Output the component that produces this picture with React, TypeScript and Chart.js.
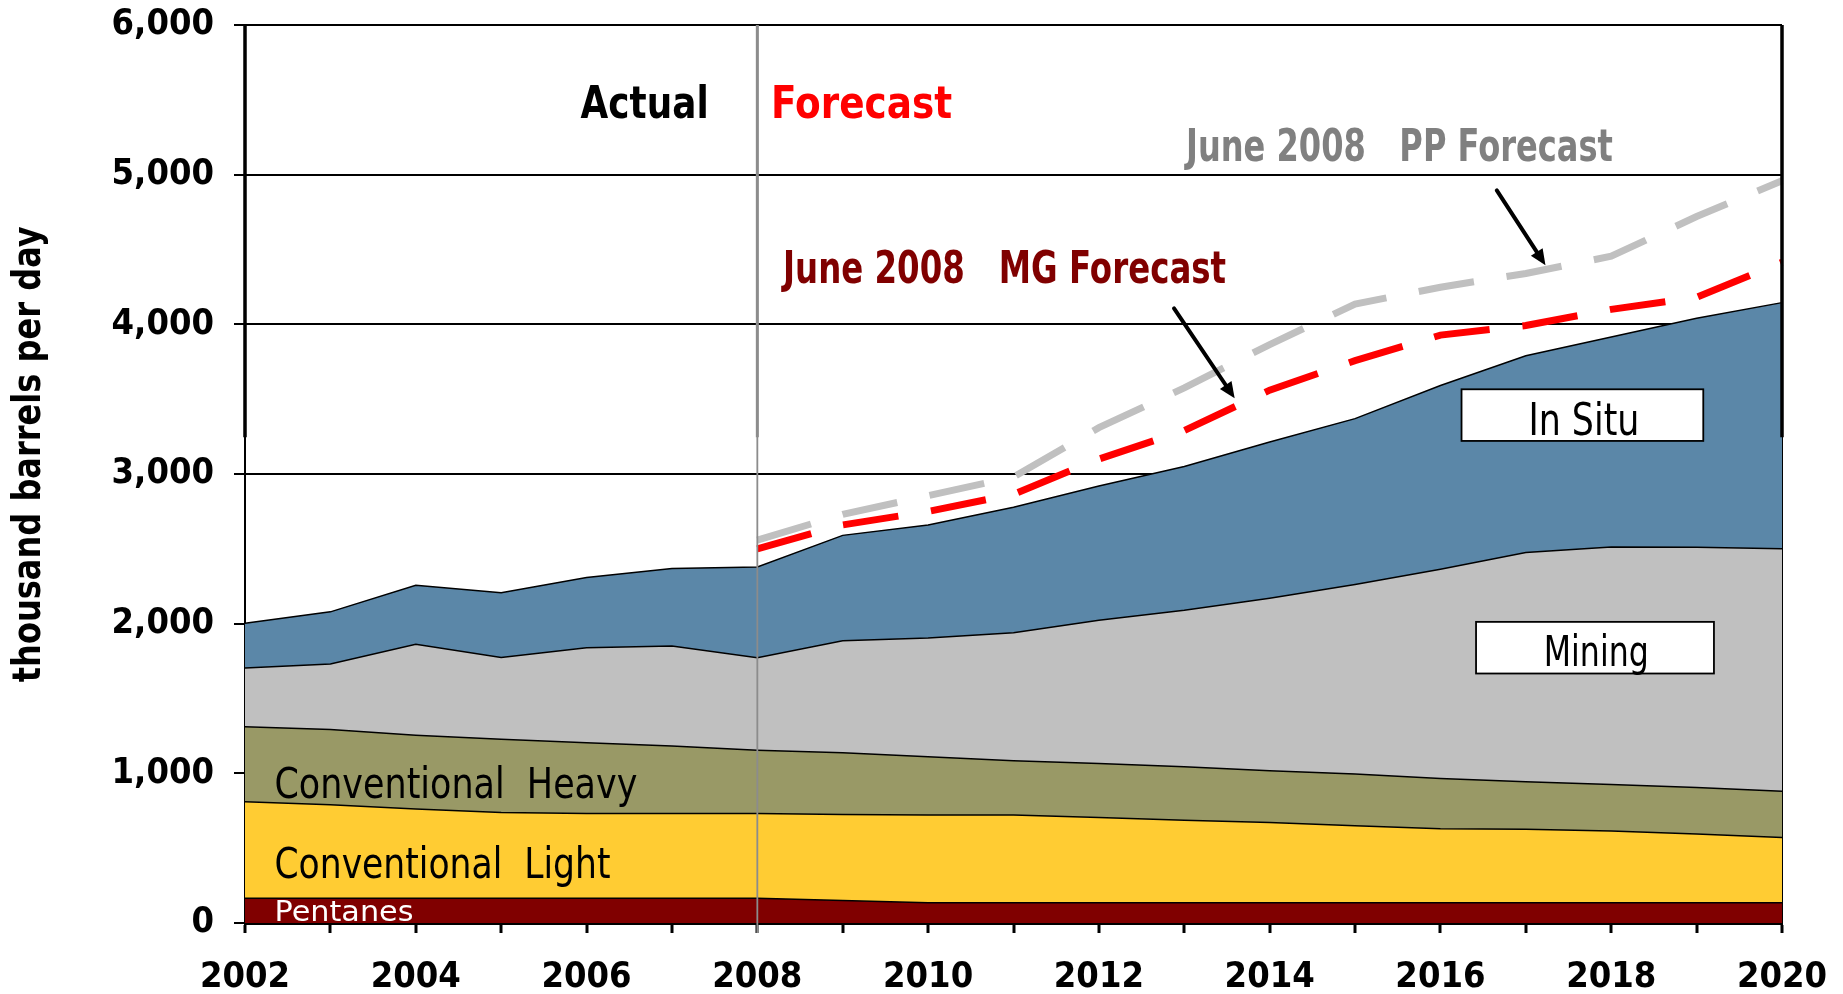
import React, { useEffect, useRef } from 'react';
import { Chart, registerables } from 'chart.js';

Chart.register(...registerables);

// ---------- data (thousand barrels per day) ----------
const years = ['2002', '2003', '2004', '2005', '2006', '2007', '2008', '2009', '2010', '2011',
  '2012', '2013', '2014', '2015', '2016', '2017', '2018', '2019', '2020'];

// stacked layers (thickness of each band)
const pentanes = [165, 165, 165, 165, 165, 165, 165, 150, 135, 135, 135, 135, 135, 135, 135, 135, 135, 135, 135];
const conventionalLight = [645, 625, 597, 573, 567, 567, 567, 575, 586, 586, 570, 551, 537, 515, 495, 491, 479, 460, 437];
const conventionalHeavy = [501, 503, 493, 489, 472, 450, 423, 412, 390, 363, 361, 358, 345, 345, 336, 318, 312, 311, 309];
const mining = [392, 437, 608, 547, 635, 668, 617, 749, 794, 855, 957, 1046, 1153, 1267, 1397, 1531, 1587, 1605, 1619];
const inSitu = [300, 349, 394, 432, 470, 519, 607, 704, 755, 839, 897, 960, 1044, 1108, 1228, 1315, 1402, 1529, 1645];

// forecast totals
const mgForecast = [null, null, null, null, null, null, 2500, 2660, 2750, 2865, 3100, 3290, 3560, 3757, 3928, 3992, 4100, 4180, 4415];
const ppForecast = [null, null, null, null, null, null, 2558, 2730, 2855, 2980, 3310, 3575, 3865, 4135, 4248, 4340, 4455, 4720, 4960];

const yTickValues = [0, 1000, 2000, 3000, 4000, 5000, 6000];
const yAxisTitle = 'thousand barrels per day';

// ---------- styling ----------
const TICK_FONT = "'DejaVu Sans Condensed', 'DejaVu Sans', sans-serif";
const TEXT_FAMILY = "'DejaVu Sans', sans-serif";

type Note = { text: string; x0: number; x1: number; v: number; font: string; color: string };
const notes: Note[] = [
  { text: 'Actual', x0: 2005.93, x1: 2007.43, v: 5377, font: `bold 45px ${TEXT_FAMILY}`, color: '#000000' },
  { text: 'Forecast', x0: 2008.16, x1: 2010.28, v: 5377, font: `bold 45px ${TEXT_FAMILY}`, color: '#FF0000' },
  { text: 'June 2008   PP Forecast', x0: 2013.02, x1: 2018.02, v: 5093, font: `bold 44px ${TEXT_FAMILY}`, color: '#808080' },
  { text: 'June 2008   MG Forecast', x0: 2008.30, x1: 2013.49, v: 4274, font: `bold 44px ${TEXT_FAMILY}`, color: '#800000' },
  { text: 'Conventional  Heavy', x0: 2002.345, x1: 2006.595, v: 837, font: `42px ${TEXT_FAMILY}`, color: '#000000' },
  { text: 'Conventional  Light', x0: 2002.345, x1: 2006.28, v: 298, font: `42px ${TEXT_FAMILY}`, color: '#000000' },
  { text: 'Pentanes', x0: 2002.345, x1: 2003.973, v: 15, font: `28px ${TEXT_FAMILY}`, color: '#FFFFFF' },
];

type Box = { x0: number; x1: number; vTop: number; vBottom: number; text: Note };
const boxes: Box[] = [
  { x0: 2016.247, x1: 2019.078, vTop: 3566, vBottom: 3221,
    text: { text: 'In Situ', x0: 2017.03, x1: 2018.33, v: 3263, font: `45px ${TEXT_FAMILY}`, color: '#000000' } },
  { x0: 2016.417, x1: 2019.203, vTop: 2012, vBottom: 1667,
    text: { text: 'Mining', x0: 2017.21, x1: 2018.44, v: 1716, font: `42px ${TEXT_FAMILY}`, color: '#000000' } },
];

const arrows = [
  { from: [2012.88, 4107], to: [2013.59, 3506] },
  { from: [2016.66, 4895], to: [2017.23, 4394] },
];

function drawFit(ctx: CanvasRenderingContext2D, n: Note, X: (yr: number) => number, Y: (v: number) => number) {
  const left = X(n.x0);
  const width = X(n.x1) - left;
  ctx.save();
  ctx.font = n.font;
  const w = ctx.measureText(n.text).width;
  ctx.translate(left, Y(n.v));
  ctx.scale(width / w, 1);
  ctx.fillStyle = n.color;
  ctx.textAlign = 'left';
  ctx.textBaseline = 'alphabetic';
  ctx.fillText(n.text, 0, 0);
  ctx.restore();
}

function drawArrow(ctx: CanvasRenderingContext2D, x1: number, y1: number, x2: number, y2: number) {
  const ang = Math.atan2(y2 - y1, x2 - x1);
  const head = 16;
  const hw = 7;
  const bx = x2 - Math.cos(ang) * head;
  const by = y2 - Math.sin(ang) * head;
  ctx.save();
  ctx.strokeStyle = '#000';
  ctx.fillStyle = '#000';
  ctx.lineWidth = 4;
  ctx.lineCap = 'round';
  ctx.beginPath();
  ctx.moveTo(x1, y1);
  ctx.lineTo(bx, by);
  ctx.stroke();
  ctx.beginPath();
  ctx.moveTo(x2, y2);
  ctx.lineTo(bx + Math.sin(ang) * hw, by - Math.cos(ang) * hw);
  ctx.lineTo(bx - Math.sin(ang) * hw, by + Math.cos(ang) * hw);
  ctx.closePath();
  ctx.fill();
  ctx.restore();
}

const annotationPlugin = {
  id: 'oilAnnotations',
  afterDatasetsDraw(chart: any) {
    const { ctx, chartArea } = chart;
    const xs = chart.scales.x;
    const ys = chart.scales.y;
    const X = (yr: number) => xs.getPixelForValue(yr - 2002);
    const Y = (v: number) => ys.getPixelForValue(v);

    // actual / forecast divider
    const xd = X(2008);
    ctx.save();
    ctx.strokeStyle = '#8C8C8C';
    ctx.lineWidth = 1.8;
    ctx.beginPath();
    ctx.moveTo(xd, chartArea.top);
    ctx.lineTo(xd, chartArea.bottom + 10);
    ctx.stroke();
    ctx.lineWidth = 3;
    ctx.beginPath();
    ctx.moveTo(xd, chartArea.top);
    ctx.lineTo(xd, Y(3245));
    ctx.stroke();
    // heavier frame segments in the upper part
    ctx.strokeStyle = '#000';
    ctx.lineWidth = 3.5;
    ctx.beginPath();
    ctx.moveTo(chartArea.left, chartArea.top);
    ctx.lineTo(chartArea.left, Y(3245));
    ctx.moveTo(chartArea.right, chartArea.top);
    ctx.lineTo(chartArea.right, Y(3245));
    ctx.stroke();
    ctx.restore();

    notes.forEach((n) => drawFit(ctx, n, X, Y));

    boxes.forEach((b) => {
      const l = X(b.x0), r = X(b.x1), t = Y(b.vTop), bt = Y(b.vBottom);
      ctx.save();
      ctx.fillStyle = '#FFFFFF';
      ctx.fillRect(l, t, r - l, bt - t);
      ctx.strokeStyle = '#000';
      ctx.lineWidth = 1.8;
      ctx.strokeRect(l, t, r - l, bt - t);
      ctx.restore();
      drawFit(ctx, b.text, X, Y);
    });

    arrows.forEach((a) => drawArrow(ctx, X(a.from[0]), Y(a.from[1]), X(a.to[0]), Y(a.to[1])));

    // y axis title
    ctx.save();
    ctx.font = `bold 39px ${TEXT_FAMILY}`;
    const w = ctx.measureText(yAxisTitle).width;
    ctx.translate(chartArea.left - 215, Y(3132));
    ctx.rotate(-Math.PI / 2);
    ctx.scale(456 / w, 1);
    ctx.fillStyle = '#000';
    ctx.textAlign = 'center';
    ctx.textBaseline = 'middle';
    ctx.fillText(yAxisTitle, 0, 0);
    ctx.restore();
  },
};

export default function App() {
  const ref = useRef<HTMLCanvasElement | null>(null);

  useEffect(() => {
    if (!ref.current) return;
    const area = (label: string, data: number[], color: string, fill: any) => ({
      label, data, backgroundColor: color, borderColor: '#000000', borderWidth: 1.5,
      fill, pointRadius: 0, tension: 0, stack: 'supply', order: 3,
    });
    const chart = new Chart(ref.current, {
      type: 'line',
      data: {
        labels: years,
        datasets: [
          area('Pentanes', pentanes, '#800000', 'origin'),
          area('Conventional Light', conventionalLight, '#FFCC33', '-1'),
          area('Conventional Heavy', conventionalHeavy, '#999966', '-1'),
          area('Mining', mining, '#C0C0C0', '-1'),
          area('In Situ', inSitu, '#5B87A8', '-1'),
          {
            label: 'June 2008 PP Forecast', data: ppForecast, borderColor: '#C0C0C0', borderWidth: 7,
            borderDash: [56, 33], borderCapStyle: 'butt', fill: false, pointRadius: 0, tension: 0,
            stack: 'pp', order: 2,
          } as any,
          {
            label: 'June 2008 MG Forecast', data: mgForecast, borderColor: '#FF0000', borderWidth: 7,
            borderDash: [56, 33], borderCapStyle: 'butt', fill: false, pointRadius: 0, tension: 0,
            stack: 'mg', order: 1,
          } as any,
        ],
      },
      options: {
        responsive: false,
        animation: false,
        devicePixelRatio: 1,
        layout: { padding: { left: 0, right: 61, top: 25, bottom: 0 } },
        plugins: { legend: { display: false }, tooltip: { enabled: false }, title: { display: false } },
        scales: {
          x: {
            type: 'category',
            offset: false,
            grid: {
              display: true,
              drawOnChartArea: true,
              color: (c: any) => (c.index === years.length - 1 ? '#000000' : 'rgba(0,0,0,0)'),
              lineWidth: 2,
              drawTicks: true,
              tickLength: 10,
              tickColor: '#000000',
              tickWidth: 3,
            },
            border: { display: true, color: '#000000', width: 3 },
            ticks: {
              autoSkip: false,
              maxRotation: 0,
              minRotation: 0,
              padding: 23,
              color: '#000000',
              font: { family: TICK_FONT, size: 36, weight: 'bold' },
              callback: (_v: any, i: number) => (i % 2 === 0 ? years[i] : ''),
            },
            afterFit: (s: any) => { s.height = 71; s.paddingLeft = 0; s.paddingRight = 0; },
          },
          y: {
            type: 'linear',
            stacked: true,
            min: yTickValues[0],
            max: yTickValues[yTickValues.length - 1],
            grid: { color: '#000000', lineWidth: 2, tickLength: 11, tickColor: '#000000', tickWidth: 2 },
            border: { display: true, color: '#000000', width: 2 },
            ticks: {
              stepSize: yTickValues[1] - yTickValues[0],
              padding: 20,
              color: '#000000',
              font: { family: TICK_FONT, size: 36, weight: 'bold' },
              callback: (v: any) => Number(v).toLocaleString('en-US'),
            },
            afterFit: (s: any) => { s.width = 245; s.paddingTop = 0; s.paddingBottom = 0; },
          },
        },
      } as any,
      plugins: [annotationPlugin],
    });
    return () => chart.destroy();
  }, []);

  return (
    <div style={{ position: 'absolute', left: 0, top: 0, width: 1843, height: 994, background: '#FFFFFF' }}>
      <canvas ref={ref} width={1843} height={994} style={{ display: 'block' }} />
    </div>
  );
}
